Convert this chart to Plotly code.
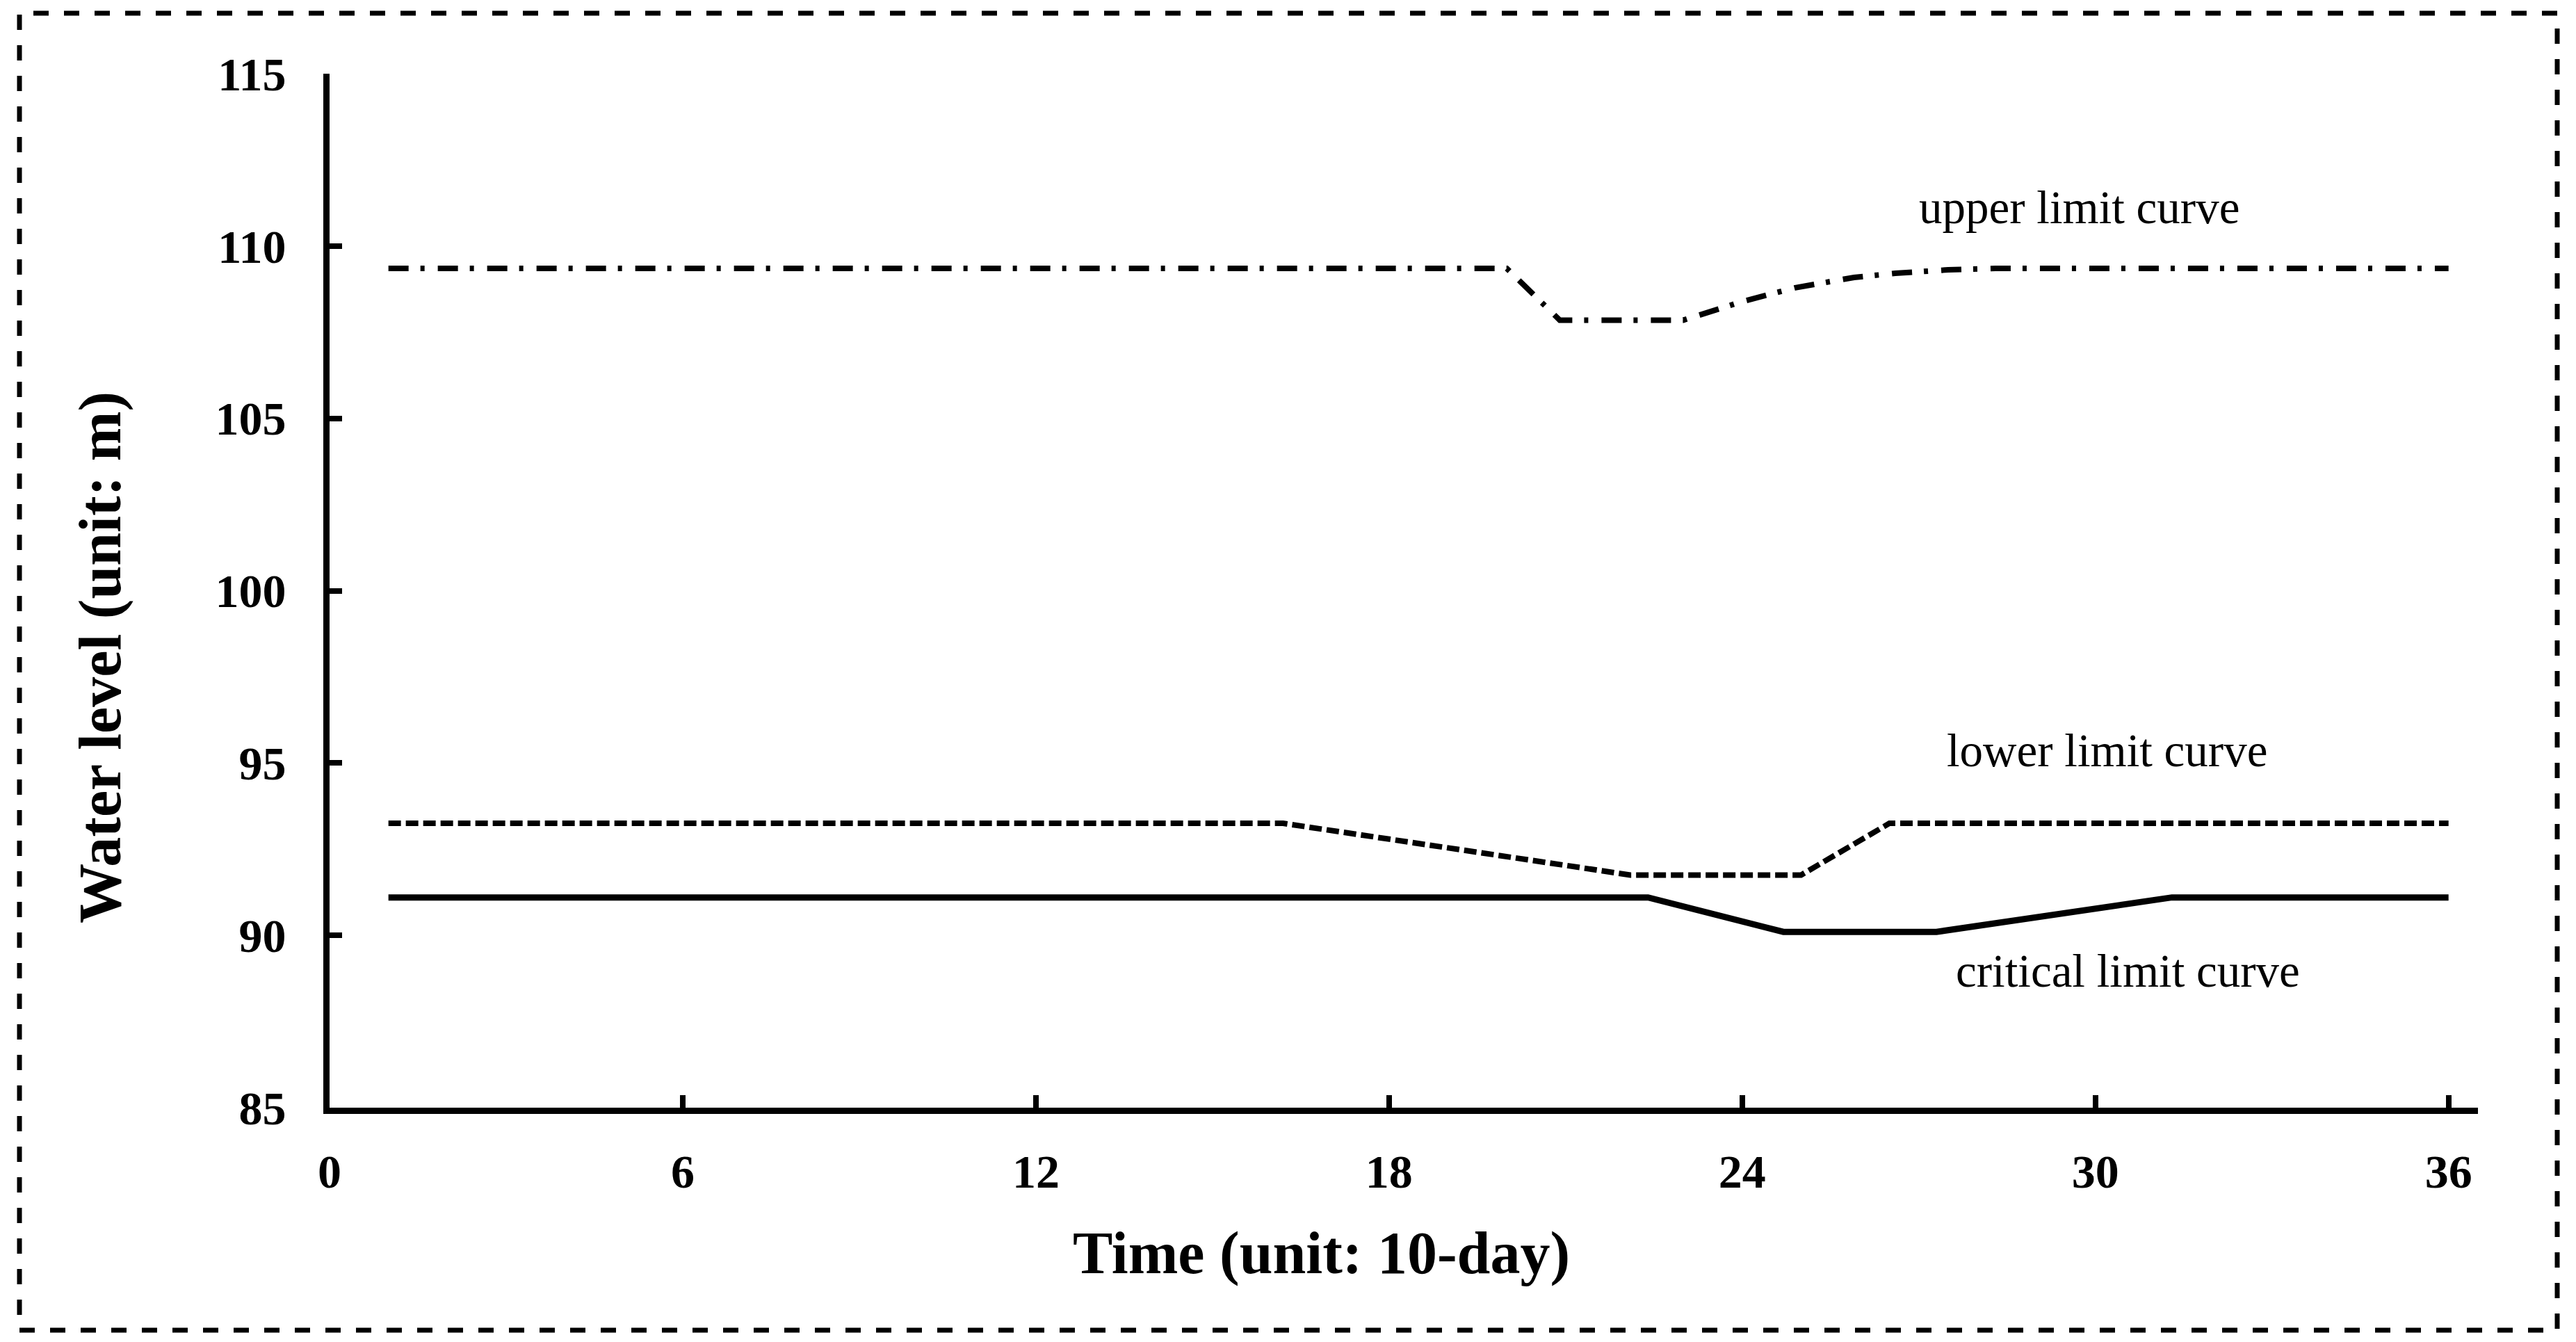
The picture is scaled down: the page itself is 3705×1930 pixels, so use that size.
import plotly.graph_objects as go

# Water level limit curves (time in 10-day periods)
upper_x = [1, 20, 20.9, 23, 24, 24.9, 25.9, 26.6, 27.5, 28.3, 36]
upper_y = [109.35, 109.35, 107.85, 107.85, 108.39, 108.79, 109.09, 109.21, 109.31, 109.35, 109.35]

lower_x = [1, 16.2, 22.1, 25.0, 26.5, 36]
lower_y = [93.25, 93.25, 91.75, 91.75, 93.25, 93.25]

critical_x = [1, 22.4, 24.7, 27.3, 31.3, 36]
critical_y = [91.1, 91.1, 90.1, 90.1, 91.1, 91.1]

x_ticks = [0, 6, 12, 18, 24, 30, 36]
y_ticks = [85, 90, 95, 100, 105, 110, 115]

# curve labels: (text, x, y)
curve_labels = [
    ("upper limit curve", 29.72, 111.12),
    ("lower limit curve", 30.2, 95.38),
    ("critical limit curve", 30.55, 88.98),
]

# page body margin shifts the figure; work in screen pixels and subtract it
OFF = 8
W, H = 3705 - 2 * OFF, 1930 - 2 * OFF
L, R, T, B = 474 - OFF, 3564 - OFF, 106 - OFF, 1593 - OFF  # plot area
SERIF = "Liberation Serif"


def px_to_paper(sx, sy):
    px, py = sx - OFF, sy - OFF
    return (px - L) / (R - L), (B - py) / (B - T)


fig = go.Figure()

fig.add_trace(go.Scatter(
    x=upper_x, y=upper_y, mode="lines", name="upper limit curve",
    line=dict(color="black", width=8, dash="29px,17px,6px,19px"),
))
fig.add_trace(go.Scatter(
    x=lower_x, y=lower_y, mode="lines", name="lower limit curve",
    line=dict(color="black", width=8, dash="18px,7px"),
))
fig.add_trace(go.Scatter(
    x=critical_x, y=critical_y, mode="lines", name="critical limit curve",
    line=dict(color="black", width=9),
))

for text, lx, ly in curve_labels:
    fig.add_annotation(
        x=lx, y=ly, text=text, showarrow=False,
        xanchor="center", yanchor="middle",
        font=dict(family=SERIF, size=67, color="black"),
    )

# axis titles
tx, ty = px_to_paper(1900, 1802)
fig.add_annotation(
    x=tx, y=ty, xref="paper", yref="paper", text="Time (unit: 10-day)",
    showarrow=False, xanchor="center", yanchor="middle",
    font=dict(family=SERIF, size=86, color="black", weight="bold"),
)
tx, ty = px_to_paper(144, 946)
fig.add_annotation(
    x=tx, y=ty, xref="paper", yref="paper", text="Water level (unit: m)",
    showarrow=False, xanchor="center", yanchor="middle", textangle=-90,
    font=dict(family=SERIF, size=86, color="black", weight="bold"),
)

# dashed frame round the whole figure
x0, y0 = px_to_paper(28, 1913)
x1, y1 = px_to_paper(3678, 19)
fig.add_shape(
    type="rect", xref="paper", yref="paper", x0=x0, y0=y0, x1=x1, y1=y1,
    line=dict(color="black", width=7, dash="22px,22px"),
)

axis_common = dict(
    showline=True, linecolor="black", linewidth=9,
    ticks="inside", ticklen=18, tickwidth=8, tickcolor="black",
    showgrid=False, zeroline=False,
    tickfont=dict(family=SERIF, size=68, color="black", weight="bold"),
)

fig.update_xaxes(range=[0, 36.5], tickvals=x_ticks, ticklabelstandoff=24, **axis_common)
fig.update_yaxes(range=[85, 115], tickvals=y_ticks, ticklabelstandoff=40, **axis_common)

fig.update_layout(
    width=W, height=H,
    margin=dict(l=L, r=W - R, t=T, b=H - B, pad=0),
    paper_bgcolor="white", plot_bgcolor="white",
    showlegend=False,
)

fig.write_html("out.html")
